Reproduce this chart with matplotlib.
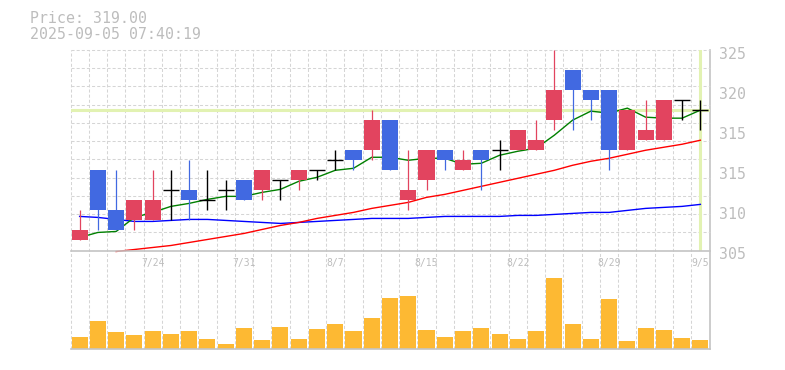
import matplotlib
matplotlib.use("Agg")
import matplotlib.pyplot as plt
import matplotlib.transforms as mtransforms
import numpy as np

plt.rcParams['lines.scale_dashes'] = False

# ---------------- data ----------------
opens  = [306, 313, 309, 308, 308, 311, 311, 310, 311, 312, 311, 312, 312, 313, 314, 315, 315, 318,
          310, 312, 315, 313, 315, 315, 315, 315, 318, 323, 321, 321, 315, 316, 316, 320, 319]
highs  = [309, 313, 313, 310, 313, 313, 314, 313, 312, 312, 313, 312, 313, 313, 315, 315, 319, 318,
          315, 315, 315, 315, 315, 316, 317, 318, 325, 323, 321, 321, 319, 320, 320, 320, 320]
lows   = [306, 307, 307, 307, 308, 308, 308, 309, 309, 310, 310, 310, 311, 312, 313, 313, 314, 313,
          309, 311, 313, 313, 311, 313, 315, 315, 317, 317, 318, 313, 315, 316, 316, 318, 317]
closes = [307, 309, 307, 310, 310, 311, 310, 310, 311, 310, 313, 312, 313, 313, 314, 314, 318, 313,
          311, 315, 314, 314, 314, 315, 317, 316, 321, 321, 320, 315, 319, 317, 320, 320, 319]
volume_k = [12, 28, 17, 14, 18, 15, 18, 10, 5, 21, 9, 22, 10, 20, 25, 18, 31, 51,
            53, 19, 12, 18, 21, 15, 10, 18, 71, 25, 10, 50, 8, 21, 19, 11, 9]
ma5  = [306.3, 306.8, 306.9, 308.3, 308.8, 309.4, 309.7, 310.1, 310.4, 310.4, 310.8, 311.1,
        311.9, 312.3, 313.0, 313.2, 314.3, 314.3, 314.0, 314.2, 314.2, 313.6, 313.7, 314.5,
        314.9, 315.2, 316.5, 318.0, 318.9, 318.7, 319.2, 318.3, 318.2, 318.2, 319.0]
ma25 = [np.nan, np.nan, 304.9, 305.1, 305.3, 305.5, 305.8, 306.1, 306.4, 306.7, 307.1, 307.5,
        307.8, 308.2, 308.5, 308.8, 309.2, 309.5, 309.8, 310.3, 310.6, 311.0, 311.4, 311.8,
        312.2, 312.6, 313.0, 313.5, 313.9, 314.2, 314.6, 315.0, 315.3, 315.6, 316.0]
ma75 = [308.4, 308.3, 308.1, 307.9, 307.9, 308.0, 308.1, 308.1, 308.0, 307.9, 307.8, 307.7,
        307.8, 307.9, 308.0, 308.1, 308.2, 308.2, 308.2, 308.3, 308.4, 308.4, 308.4, 308.4,
        308.5, 308.5, 308.6, 308.7, 308.8, 308.8, 309.0, 309.2, 309.3, 309.4, 309.6]
date_tick_idx = [4, 9, 14, 19, 24, 29, 34]
date_tick_labels = ['7/24', '7/31', '8/7', '8/15', '8/22', '8/29', '9/5']
price_tick_vals = [325, 321, 317, 313, 309, 305]
price_tick_labels = ['325', '320', '315', '315', '310', '305']
price_text = 'Price: 319.00'
time_text = '2025-09-05 07:40:19'

# ---------------- style ----------------
W, H = 785, 370
RED = '#E2445F'
BLUE = '#4169E1'
VOLC = '#FDB933'
HL = '#E2F2B2'
GRID = '#D5D5D5'
AXC = '#C4C4C4'
TXT = '#BDBDBD'
MONO = 'DejaVu Sans Mono'
DASH = (0, (2.2, 1.5))

fig = plt.figure(figsize=(W / 100, H / 100), dpi=100)
fig.patch.set_facecolor('white')


def rect(x0, y0, x1, y1):
    return [x0 / W, 1 - y1 / H, (x1 - x0) / W, (y1 - y0) / H]


L, R = 70.5, 709.5
P_TOP, P_BOT = 50, 250.5
V_TOP, V_BOT = 270.5, 349
n = len(closes)
x = np.arange(n)

# background axes for vertical grid spanning both panels
bg = fig.add_axes(rect(L, P_TOP, R, V_BOT))
bg.set_xlim(-0.5, n - 0.5)
bg.set_ylim(0, 1)
bg.axis('off')
for k in range(n):
    bg.axvline(k - 0.5, color=GRID, lw=0.75, ls=DASH, clip_on=False, zorder=0)
bg.axvline(n - 0.5, color=AXC, lw=1.2, clip_on=False, zorder=5)

# price axes
ax = fig.add_axes(rect(L, P_TOP, R, P_BOT))
ax.patch.set_alpha(0)
ax.set_xlim(-0.5, n - 0.5)
ax.set_ylim(305, 325)
for s in ['top', 'left', 'right']:
    ax.spines[s].set_visible(False)
ax.spines['bottom'].set_color(AXC)
ax.spines['bottom'].set_linewidth(1.2)
ax.set_xticks([])
ax.set_yticks([])
for k in range(11):
    ax.axhline(325 - k * 20 / 11, color=GRID, lw=0.75, ls=DASH, clip_on=False, zorder=0)

# current price lines
ax.axhline(closes[-1], color=HL, lw=2.2, zorder=1)
ax.axvline(x[-1], color=HL, lw=2.2, zorder=1)

# moving averages (behind candles)
ax.plot(x, ma75, color='#0000FF', lw=1.0, zorder=2)
ax.plot(x, ma25, color='#FF0000', lw=1.0, zorder=2, clip_on=False)
ax.plot(x, ma5, color='#008000', lw=1.0, zorder=2)

# candles
bw = 0.88
for i in range(n):
    o, h, l, c = opens[i], highs[i], lows[i], closes[i]
    if c > o:
        col = RED
    elif c < o:
        col = BLUE
    else:
        col = 'black'
    ax.vlines(i, l, h, color=col, lw=1.0 if col == 'black' else 0.9, zorder=3)
    if c != o:
        ax.bar(i, abs(c - o), bottom=min(o, c), width=bw, color=col, linewidth=0, zorder=4)
    else:
        ax.hlines(o, i - bw / 2, i + bw / 2, color='black', lw=1.0, zorder=4)

# right-side price labels
for v, lab in zip(price_tick_vals, price_tick_labels):
    tr = mtransforms.offset_copy(
        mtransforms.blended_transform_factory(ax.transAxes, ax.transData),
        fig=fig, x=9.5, y=-8.7, units='dots')
    ax.text(1.0, v, lab, transform=tr, fontsize=10.7, family=MONO, color=TXT,
            ha='left', va='baseline', clip_on=False)

# date labels
for i, lab in zip(date_tick_idx, date_tick_labels):
    tr = mtransforms.offset_copy(
        mtransforms.blended_transform_factory(ax.transData, ax.transAxes),
        fig=fig, x=0, y=-15.3, units='dots')
    ax.text(i, 0, lab, transform=tr, fontsize=7, family=MONO, color=TXT,
            ha='center', va='baseline', clip_on=False)

# volume axes
vax = fig.add_axes(rect(L, V_TOP, R, V_BOT))
vax.patch.set_alpha(0)
vax.set_xlim(-0.5, n - 0.5)
vax.set_ylim(0, 78.5)
for s in ['top', 'left', 'right']:
    vax.spines[s].set_visible(False)
vax.spines['bottom'].set_color(AXC)
vax.spines['bottom'].set_linewidth(1.2)
vax.set_xticks([])
vax.set_yticks([])
vax.bar(x, volume_k, width=bw, color=VOLC, linewidth=0, zorder=2)

# header text
fig.text(30 / W, 1 - 23.1 / H, price_text, fontsize=10.7, family=MONO, color=TXT,
         ha='left', va='baseline')
fig.text(30 / W, 1 - 38.7 / H, time_text, fontsize=10.7, family=MONO, color=TXT,
         ha='left', va='baseline')

fig.savefig('out.png', dpi=100, facecolor='white')
